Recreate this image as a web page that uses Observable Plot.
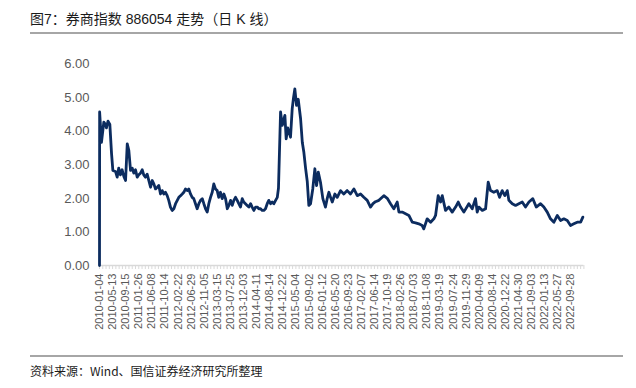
<!DOCTYPE html>
<html>
<head>
<meta charset="utf-8">
<script src="https://cdn.jsdelivr.net/npm/d3@7"></script>
<script src="https://cdn.jsdelivr.net/npm/@observablehq/plot@0.6"></script>
<style>
  html, body { margin: 0; padding: 0; background: #fff; }
  #wrap { position: relative; width: 636px; height: 388px; overflow: hidden; font-family: "Liberation Sans", Arial, "Noto Sans CJK SC", sans-serif; }
  #title { position: absolute; left: 30px; top: 8px; font-size: 14px; color: #1a1a1a; font-family: "Liberation Sans", "Noto Sans CJK SC", sans-serif; white-space: nowrap; }
  .rule { position: absolute; left: 30px; width: 593px; height: 0; border-top: 2px solid #a6a6a6; }
  #chart { position: absolute; left: 0; top: 40px; }
  #source { position: absolute; left: 30px; top: 362px; font-size: 12px; color: #1a1a1a; font-family: "Noto Sans CJK SC", sans-serif; white-space: nowrap; }
</style>
</head>
<body>
<div id="wrap">
  <div id="title">图7：券商指数 886054 走势（日 K 线）</div>
  <div class="rule" style="top:32px"></div>
  <div id="chart"></div>
  <div class="rule" style="top:355px"></div>
  <div id="source">资料来源：Wind、国信证券经济研究所整理</div>
</div>
<script>
// Category tick labels (one every ~86 trading days)
const tickLabels = ["2010-01-04","2010-05-13","2010-09-15","2011-01-26","2011-06-08","2011-10-14","2012-02-22","2012-06-29","2012-11-05","2013-03-15","2013-07-25","2013-12-03","2014-04-11","2014-08-14","2014-12-22","2015-05-04","2015-09-02","2016-01-12","2016-05-20","2016-09-23","2017-02-07","2017-06-14","2017-10-19","2018-02-26","2018-07-03","2018-11-08","2019-03-19","2019-07-24","2019-11-29","2020-04-09","2020-08-14","2020-12-22","2021-04-30","2021-09-03","2022-01-13","2022-05-27","2022-09-28"];

const yTicks = [0, 1, 2, 3, 4, 5, 6];

// Position along the category axis (in label-slot units) and index value
const pos = [0,0.01,0.15,0.33,0.46,0.53,0.65,0.79,0.92,1.02,1.22,1.35,1.47,1.60,1.73,1.86,1.99,2.12,2.24,2.37,2.50,2.62,2.75,2.88,3.00,3.13,3.26,3.38,3.51,3.64,3.77,3.90,4.03,4.15,4.28,4.41,4.53,4.66,4.79,4.91,5.04,5.17,5.29,5.42,5.55,5.68,5.81,5.94,6.06,6.19,6.32,6.44,6.57,6.70,6.82,6.95,7.08,7.20,7.33,7.46,7.59,7.72,7.85,7.97,8.10,8.23,8.35,8.48,8.61,8.73,8.86,8.99,9.11,9.24,9.37,9.50,9.63,9.76,9.88,10.01,10.14,10.26,10.39,10.52,10.64,10.77,10.90,11.02,11.15,11.28,11.41,11.54,11.66,11.79,11.92,12.05,12.17,12.30,12.43,12.55,12.68,12.81,12.93,13.06,13.19,13.32,13.45,13.58,13.67,13.83,13.96,14.16,14.26,14.38,14.59,14.72,14.82,14.92,15.05,15.18,15.36,15.49,15.61,15.74,15.87,15.99,16.12,16.29,16.45,16.58,16.71,16.88,17.06,17.26,17.39,17.52,17.65,17.78,17.98,18.16,18.41,18.66,18.92,19.17,19.43,19.69,19.94,20.19,20.45,20.70,20.89,21.08,21.34,21.72,21.98,22.23,22.48,22.74,22.87,23.12,23.38,23.63,23.89,24.14,24.39,24.65,24.77,25.03,25.29,25.54,25.67,25.87,26.05,26.18,26.43,26.68,26.94,27.20,27.40,27.58,27.83,28.21,28.47,28.72,28.85,28.98,29.24,29.49,29.69,29.87,30.12,30.38,30.56,30.76,30.96,31.15,31.27,31.53,31.78,32.03,32.29,32.54,32.80,33.10,33.36,33.69,33.94,34.20,34.45,34.71,34.97,35.22,35.47,35.73,35.98,36.23,36.49,36.75,36.92];

const values = [0,4.57,3.67,4.27,4.20,4.10,4.30,4.20,3.33,2.83,2.80,2.63,2.90,2.70,2.85,2.65,2.53,3.62,3.43,2.83,2.90,2.75,2.85,2.63,2.70,2.75,2.85,2.70,2.63,2.72,2.53,2.33,2.53,2.43,2.28,2.33,2.38,2.13,2.23,2.13,2.18,2.08,1.94,1.74,1.64,1.69,1.84,1.94,2.03,2.08,2.13,2.18,2.28,2.23,2.28,2.13,2.03,1.99,1.84,1.69,1.84,1.94,1.99,1.84,1.69,1.59,1.84,2.03,2.18,2.43,2.28,2.23,2.03,2.18,1.99,2.13,1.99,1.69,1.79,1.94,1.79,1.94,2.03,1.94,1.84,1.74,1.99,1.89,1.84,1.79,1.74,1.84,1.74,1.64,1.74,1.74,1.69,1.69,1.64,1.64,1.69,1.84,1.94,1.84,1.89,1.84,1.94,2.03,2.30,4.57,4.17,4.47,3.77,4.10,3.82,4.67,5.00,5.26,4.77,4.95,4.37,3.67,3.37,2.90,2.50,1.79,1.84,2.28,2.88,2.38,2.78,2.48,1.99,1.74,1.99,2.18,2.03,1.89,2.13,2.03,2.23,2.13,2.23,2.13,2.28,2.08,2.13,2.03,1.94,1.74,1.84,1.90,1.94,2.08,2.00,1.84,1.69,1.89,1.59,1.59,1.54,1.49,1.29,1.27,1.24,1.19,1.09,1.39,1.29,1.39,1.49,2.08,1.89,2.08,1.64,1.74,1.59,1.74,1.89,1.74,1.59,1.84,1.69,1.99,1.59,1.74,1.64,1.69,2.48,2.23,2.18,2.23,2.03,2.23,2.08,2.23,1.94,1.84,1.79,1.84,1.89,1.74,1.89,1.99,1.74,1.84,1.74,1.59,1.39,1.29,1.49,1.34,1.39,1.34,1.19,1.24,1.29,1.29,1.44];

const data = pos.map((p, i) => ({pos: p, value: values[i]}));
const labelPositions = tickLabels.map((_, i) => i);
const minorTicks = d3.range(0, 37.01, 0.25);

const chart = Plot.plot({
  width: 636,
  height: 300,
  marginLeft: 99,
  marginRight: 52.6,
  marginTop: 23.5,
  marginBottom: 75,
  style: {background: "transparent", fontFamily: "'Liberation Sans', Arial, sans-serif"},
  x: {domain: [0, 37], axis: null},
  y: {domain: [0, 6], axis: null},
  marks: [
    Plot.axisX(minorTicks, {tickSize: 4, tickFormat: () => "", label: null, stroke: "#d9d9d9", strokeWidth: 1, strokeOpacity: 1}),
    Plot.ruleY([0], {x1: 0, x2: 37, stroke: "#d9d9d9", strokeWidth: 1.5}),
    Plot.axisX(labelPositions, {tickSize: 0, tickPadding: 8, tickRotate: -90, tickFormat: i => tickLabels[i], label: null, fontSize: 11, fill: "#595959"}),
    Plot.axisY(yTicks, {tickSize: 0, tickPadding: 10, tickFormat: d3.format(".2f"), label: null, fontSize: 13, fill: "#595959"}),
    Plot.line(data, {x: "pos", y: "value", stroke: "#0c2c5f", strokeWidth: 2.8, strokeLinejoin: "round"})
  ]
});
document.getElementById("chart").appendChild(chart);
</script>
</body>
</html>
